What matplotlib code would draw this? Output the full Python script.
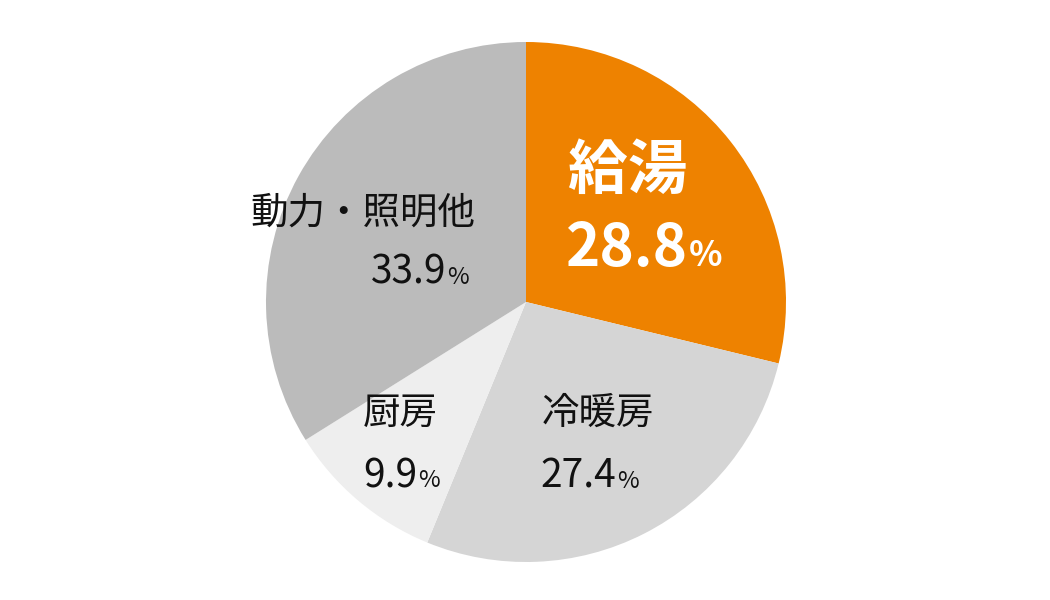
import matplotlib
matplotlib.use('Agg')
import matplotlib.pyplot as plt

plt.rcParams['font.family'] = ['Noto Sans CJK JP', 'DejaVu Sans']

# データ（給湯から時計回り）
labels = ['給湯', '冷暖房', '厨房', '動力・照明他']
shares = [28.8, 27.4, 9.9, 33.9]
colors = ['#EE8200', '#D5D5D5', '#EEEEEE', '#BBBBBB']

fig = plt.figure(figsize=(10.5, 6), dpi=100)
ax = fig.add_axes([0, 0, 1, 1])

# y軸を反転しているので counterclock=True で時計回りになる
ax.pie(shares, colors=colors, startangle=-90, counterclock=True,
       radius=260, center=(526, 302), frame=True)
ax.set_xlim(0, 1050)
ax.set_ylim(600, 0)
ax.set_aspect('equal')
ax.axis('off')

# ラベル配置（名称の左端・中心y, 数値の右端・ベースライン）
label_pos = [(568, 172), (542, 413), (363, 413), (250, 213)]
num_pos = [(688, 266), (616, 488), (417, 487), (446, 284)]
bold = [True, False, False, False]
txt_color = ['white', '#111111', '#111111', '#111111']

for i, name in enumerate(labels):
    w = 'bold' if bold[i] else 'normal'
    big = 43 if bold[i] else 27
    num = 42 if bold[i] else 28
    pct = 25 if bold[i] else 17
    ax.text(label_pos[i][0], label_pos[i][1], name, fontsize=big, fontweight=w,
            color=txt_color[i], ha='left', va='center')
    ax.text(num_pos[i][0], num_pos[i][1], '%.1f' % shares[i], fontsize=num,
            fontweight=w, color=txt_color[i], ha='right', va='baseline')
    ax.text(num_pos[i][0] + 1, num_pos[i][1], '%', fontsize=pct, fontweight=w,
            color=txt_color[i], ha='left', va='baseline')

fig.savefig('out.png', dpi=100, facecolor='white')
